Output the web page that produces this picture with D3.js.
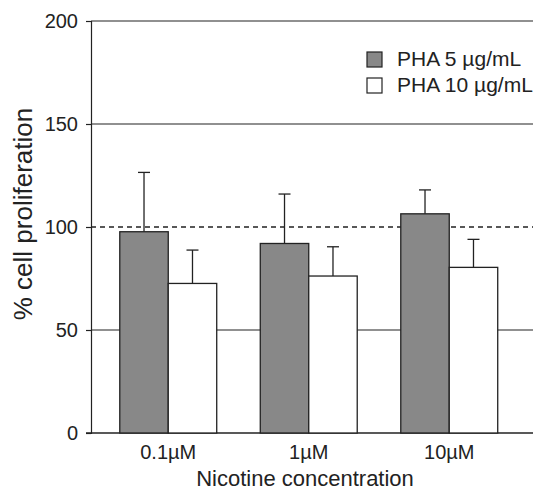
<!DOCTYPE html>
<html>
<head>
<meta charset="utf-8">
<script src="https://cdn.jsdelivr.net/npm/d3@7"></script>
<style>
  body { margin: 0; background: #fff; }
  text { font-family: "Liberation Sans", Arial, sans-serif; fill: #222; }
</style>
</head>
<body>
<div id="chart"></div>
<script>
var concentrations = ["0.1\u00B5M", "1\u00B5M", "10\u00B5M"]
var seriesNames = ["PHA 5 \u00B5g/mL", "PHA 10 \u00B5g/mL"]
var pha5Means = [97.7, 92, 106.4]
var pha5Errors = [28.8, 24, 11.6]
var pha10Means = [72.6, 76.2, 80.4]
var pha10Errors = [16.2, 14.2, 13.6]
var yTicks = [0, 50, 100, 150, 200]

var width = 533, height = 492

var svg = d3.select("#chart").append("svg")
  .attr("width", width)
  .attr("height", height)

var y = d3.scaleLinear().domain([0, 200]).range([433, 21])

var x = d3.scaleBand().domain(concentrations)
  .range([98, 519.5])
  .paddingInner(0.31)
  .paddingOuter(0.155)

var xSub = d3.scaleBand().domain(seriesNames).range([0, x.bandwidth()])

var colors = d3.scaleOrdinal().domain(seriesNames).range(["#888888", "#ffffff"])

// rows of data per group
var rows = concentrations.map(function(c, i) {
  return [
    {group: c, series: seriesNames[0], mean: pha5Means[i], err: pha5Errors[i]},
    {group: c, series: seriesNames[1], mean: pha10Means[i], err: pha10Errors[i]}
  ]
})

// gridlines
svg.append("g").selectAll("line")
  .data(yTicks.filter(function(d){ return d > 0 }))
  .enter()
  .append("line")
  .attr("x1", 91)
  .attr("x2", width)
  .attr("y1", function(d){ return y(d) })
  .attr("y2", function(d){ return y(d) })
  .style("stroke", "#222")
  .style("stroke-width", function(d){ return d == 100 ? 1.4 : 1.2 })
  .style("stroke-dasharray", function(d){ return d == 100 ? "5,4" : null })

// y axis
var yAxis = d3.axisLeft(y).tickValues(yTicks).tickSize(5).tickPadding(8)
var gy = svg.append("g")
  .attr("transform", "translate(91,0)")
  .call(yAxis)
gy.select(".domain").style("stroke", "#222").style("stroke-width", 1.2)
gy.selectAll(".tick line").style("stroke", "#222").style("stroke-width", 1.2)
gy.selectAll(".tick text")
  .style("font-size", "20px")
  .style("font-family", "Liberation Sans, Arial, sans-serif")
  .style("fill", "#222")

// x axis baseline
svg.append("line")
  .attr("x1", 86).attr("x2", width)
  .attr("y1", y(0)).attr("y2", y(0))
  .style("stroke", "#222")
  .style("stroke-width", 1.4)

// bars
var groups = svg.append("g").selectAll("g")
  .data(rows)
  .enter()
  .append("g")
  .attr("transform", function(d){ return "translate(" + x(d[0].group) + ",0)" })

// error bars (drawn first so bar covers lower half)
groups.selectAll("line.err")
  .data(function(d){ return d })
  .enter()
  .append("line")
  .attr("class", "err")
  .attr("x1", function(d){ return xSub(d.series) + xSub.bandwidth() / 2 })
  .attr("x2", function(d){ return xSub(d.series) + xSub.bandwidth() / 2 })
  .attr("y1", function(d){ return y(d.mean) })
  .attr("y2", function(d){ return y(d.mean + d.err) })
  .style("stroke", "#222")
  .style("stroke-width", 1.3)

groups.selectAll("line.cap")
  .data(function(d){ return d })
  .enter()
  .append("line")
  .attr("class", "cap")
  .attr("x1", function(d){ return xSub(d.series) + xSub.bandwidth() / 2 - 6 })
  .attr("x2", function(d){ return xSub(d.series) + xSub.bandwidth() / 2 + 6 })
  .attr("y1", function(d){ return y(d.mean + d.err) })
  .attr("y2", function(d){ return y(d.mean + d.err) })
  .style("stroke", "#222")
  .style("stroke-width", 1.3)

groups.selectAll("rect")
  .data(function(d){ return d })
  .enter()
  .append("rect")
  .attr("x", function(d){ return xSub(d.series) })
  .attr("y", function(d){ return y(d.mean) })
  .attr("width", xSub.bandwidth())
  .attr("height", function(d){ return y(0) - y(d.mean) })
  .style("fill", function(d){ return colors(d.series) })
  .style("stroke", "#222")
  .style("stroke-width", 1.3)

// x labels
svg.append("g").selectAll("text")
  .data(concentrations)
  .enter()
  .append("text")
  .attr("x", function(d){ return x(d) + x.bandwidth() / 2 })
  .attr("y", 459)
  .attr("text-anchor", "middle")
  .style("font-size", "20px")
  .text(function(d){ return d })

// axis titles
svg.append("text")
  .attr("x", 305)
  .attr("y", 486)
  .attr("text-anchor", "middle")
  .style("font-size", "22px")
  .text("Nicotine concentration")

svg.append("text")
  .attr("transform", "translate(32,214) rotate(-90)")
  .attr("text-anchor", "middle")
  .style("font-size", "26px")
  .text("% cell proliferation")

// legend
var legend = svg.append("g").attr("transform", "translate(367,52)")
var items = legend.selectAll("g")
  .data(seriesNames)
  .enter()
  .append("g")
  .attr("transform", function(d, i){ return "translate(0," + (i * 26) + ")" })

items.append("rect")
  .attr("width", 15)
  .attr("height", 15)
  .style("fill", function(d){ return colors(d) })
  .style("stroke", "#222")
  .style("stroke-width", 1.2)

items.append("text")
  .attr("x", 30)
  .attr("y", 14)
  .style("font-size", "21px")
  .text(function(d){ return d })
</script>
</body>
</html>
